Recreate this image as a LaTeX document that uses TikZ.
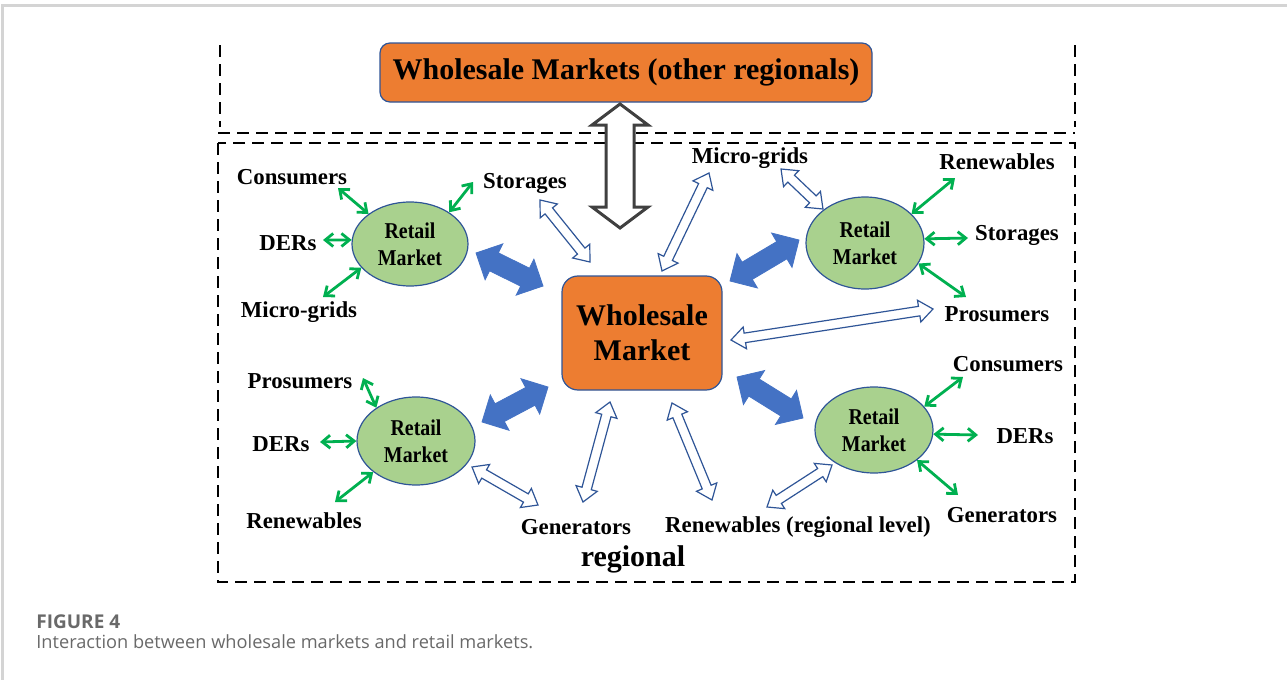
\documentclass[tikz,border=0pt]{standalone}
\usepackage{fontspec}
\setmainfont{Liberation Serif}
\newfontfamily\capfont{Open Sans}
\newfontfamily\retailfont{Liberation Serif}[FakeStretch=0.88]
\usepackage{tikz}
\usetikzlibrary{calc,arrows.meta,shapes.geometric}
\usepackage{xcolor}
\definecolor{wmorange}{RGB}{237,125,49}
\definecolor{edgeblue}{RGB}{47,85,151}
\definecolor{rmgreen}{RGB}{169,209,142}
\definecolor{linkgreen}{RGB}{0,176,80}
\definecolor{flowblue}{RGB}{68,114,196}
\definecolor{flowgray}{RGB}{64,64,64}
\definecolor{capgray}{RGB}{105,105,105}
\definecolor{framegray}{RGB}{212,212,212}

% block double arrow: style, from, to, head length, head half width, shaft half width
\newcommand{\dblarrow}[6]{%
  \draw[#1] (#2) -- ($(#2)!#4!(#3)!#5!90:(#3)$) -- ($(#2)!#4!(#3)!#6!90:(#3)$)
    -- ($(#3)!#4!(#2)!#6!-90:(#2)$) -- ($(#3)!#4!(#2)!#5!-90:(#2)$) -- (#3)
    -- ($(#3)!#4!(#2)!#5!90:(#2)$) -- ($(#3)!#4!(#2)!#6!90:(#2)$)
    -- ($(#2)!#4!(#3)!#6!-90:(#3)$) -- ($(#2)!#4!(#3)!#5!-90:(#3)$) -- cycle;}

\begin{document}
\begin{tikzpicture}[x=0.5pt,y=-0.5pt,
    market/.style={rectangle, draw=edgeblue, line width=0.6pt, fill=wmorange, align=center, inner sep=0pt},
    retail/.style={ellipse, draw=edgeblue, line width=0.6pt, fill=rmgreen, align=center, inner sep=0pt,
      font=\retailfont\bfseries\fontsize{11.3}{13.5}\selectfont},
    lab/.style={font=\bfseries\fontsize{11.4}{13}\selectfont, inner sep=1pt},
    link/.style={linkgreen, line width=1.4pt,
      {Straight Barb[length=4pt,width=6.5pt]}-{Straight Barb[length=4pt,width=6.5pt]}},
    bigflow/.style={fill=flowblue, draw=flowblue, line width=0.4pt},
    hollow/.style={fill=white, draw=edgeblue, line width=0.6pt},
    topflow/.style={fill=white, draw=flowgray, line width=1.5pt},
    border/.style={black, dash pattern=on 6pt off 3.5pt, line width=1.4pt}]
  \useasboundingbox (0,0) rectangle (1287,680);
  \draw[framegray, line width=1.5pt] (2,680) -- (2,5) -- (1287,5);

  % dashed frames
  \draw[border] (220,45) -- (220,127);
  \draw[border] (1075,45) -- (1075,127);
  \draw[border] (218,133) -- (1075,133);
  \draw[border] (218,143) rectangle (1075,582);

  % markets
  \node[market, rounded corners=5pt, minimum width=246pt, minimum height=29.5pt,
    font=\bfseries\fontsize{15}{17.5}\selectfont] (wmo) at (626,72.5) {Wholesale Markets (other regionals)};
  \node[market, rounded corners=8pt, minimum width=80pt, minimum height=57pt,
    font=\bfseries\fontsize{15}{17.5}\selectfont] (wm) at (642,333) {Wholesale\\Market};
  \node[retail, minimum width=58pt, minimum height=42pt] (tlrm) at (410,244) {Retail\\Market};
  \node[retail, minimum width=59pt, minimum height=46pt] (trrm) at (865,243) {Retail\\Market};
  \node[retail, minimum width=59pt, minimum height=44pt] (blrm) at (416,441) {Retail\\Market};
  \node[retail, minimum width=59pt, minimum height=43pt] (brrm) at (874,430) {Retail\\Market};

  % labels
  \node[lab] (tlcons) at (292,177) {Consumers};
  \node[lab] (tlstor) at (525,183) {Storages};
  \node[lab] (tlders) at (288,243) {DERs};
  \node[lab] (tlmg) at (299,312) {Micro-grids};
  \node[lab] (trmg) at (750,158) {Micro-grids};
  \node[lab] (trren) at (997,162) {Renewables};
  \node[lab] (trstor) at (1017,235) {Storages};
  \node[lab] (trpros) at (997,314) {Prosumers};
  \node[lab] (blpros) at (300,381) {Prosumers};
  \node[lab] (blders) at (281,444) {DERs};
  \node[lab] (blren) at (304,521) {Renewables};
  \node[lab] (blgen) at (576,527) {Generators};
  \node[lab] (brcons) at (1008,364) {Consumers};
  \node[lab] (brders) at (1025,436) {DERs};
  \node[lab] (brgen) at (1002,515) {Generators};
  \node[lab] (brren) at (798,527) {Renewables (regional level)};
  \node[font=\bfseries\fontsize{15}{17}\selectfont, inner sep=1pt] (reg) at (633,559) {regional};

  % green links
  \coordinate (tlcons-e) at (338,188);
  \coordinate (tlstor-e) at (473,182);
  \coordinate (tlders-e) at (323,240);
  \coordinate (tlmg-e) at (323,297);
  \coordinate (trren-e) at (955,178);
  \coordinate (trstor-e) at (968,238);
  \coordinate (trpros-e) at (966,297);
  \coordinate (blpros-e) at (363,378);
  \coordinate (blders-e) at (320,442);
  \coordinate (blren-e) at (335,502);
  \coordinate (brcons-e) at (963,377);
  \coordinate (brders-e) at (978,435);
  \coordinate (brgen-e) at (958,495);
  \draw[link] (tlcons-e) -- (tlrm.144);
  \draw[link] (tlstor-e) -- (tlrm.39);
  \draw[link] (tlders-e) -- (tlrm.176);
  \draw[link] (tlmg-e) -- (tlrm.206);
  \draw[link] (trren-e) -- (trrm.32);
  \draw[link] (trstor-e) -- (trrm.4);
  \draw[link] (trpros-e) -- (trrm.-21);
  \draw[link] (blpros-e) -- (blrm.140);
  \draw[link] (blders-e) -- (blrm.180);
  \draw[link] (blren-e) -- (blrm.216);
  \draw[link] (brcons-e) -- (brrm.25);
  \draw[link] (brders-e) -- (brrm.-4);
  \draw[link] (brgen-e) -- (brrm.-35);

  % flows to the wholesale market
  \coordinate (top-a) at (620,104);
  \coordinate (top-b) at (620,228);
  \dblarrow{topflow}{top-a}{top-b}{10.5pt}{14pt}{7pt}
  \coordinate (tlf-a) at (476,253);
  \coordinate (tlf-b) at (543,286);
  \coordinate (trf-a) at (730,281);
  \coordinate (trf-b) at (799,240);
  \coordinate (blf-a) at (482,422);
  \coordinate (blf-b) at (548,387);
  \coordinate (brf-a) at (737,377);
  \coordinate (brf-b) at (803,418);
  \dblarrow{bigflow}{tlf-a}{tlf-b}{10pt}{10pt}{5pt}
  \dblarrow{bigflow}{trf-a}{trf-b}{10pt}{10pt}{5pt}
  \dblarrow{bigflow}{blf-a}{blf-b}{10pt}{10pt}{5pt}
  \dblarrow{bigflow}{brf-a}{brf-b}{10pt}{10pt}{5pt}

  \coordinate (h1-a) at (540,200);
  \coordinate (h1-b) at (590,262);
  \coordinate (h2-a) at (709,173);
  \coordinate (h2-b) at (662,271);
  \coordinate (h3-a) at (781,169);
  \coordinate (h3-b) at (823,209);
  \coordinate (h4-a) at (933,309);
  \coordinate (h4-b) at (731,340);
  \coordinate (h5-a) at (472,467);
  \coordinate (h5-b) at (538,505);
  \coordinate (h6-a) at (583,502);
  \coordinate (h6-b) at (610,402);
  \coordinate (h7-a) at (672,403);
  \coordinate (h7-b) at (712,500);
  \coordinate (h8-a) at (767,507);
  \coordinate (h8-b) at (832,465);
  \foreach \i in {1,...,8} {
    \dblarrow{hollow}{h\i-a}{h\i-b}{7pt}{5.5pt}{2.4pt}
  }

  % caption
  \node[anchor=base west, inner sep=0pt, text=capgray, font=\capfont\bfseries\fontsize{9.5}{11}\selectfont] (fig) at (36,628) {FIGURE 4};
  \node[anchor=base west, inner sep=0pt, text=capgray, font=\capfont\fontsize{9.1}{10}\selectfont] (figtext) at (36,648) {Interaction between wholesale markets and retail markets.};
\end{tikzpicture}
\end{document}
